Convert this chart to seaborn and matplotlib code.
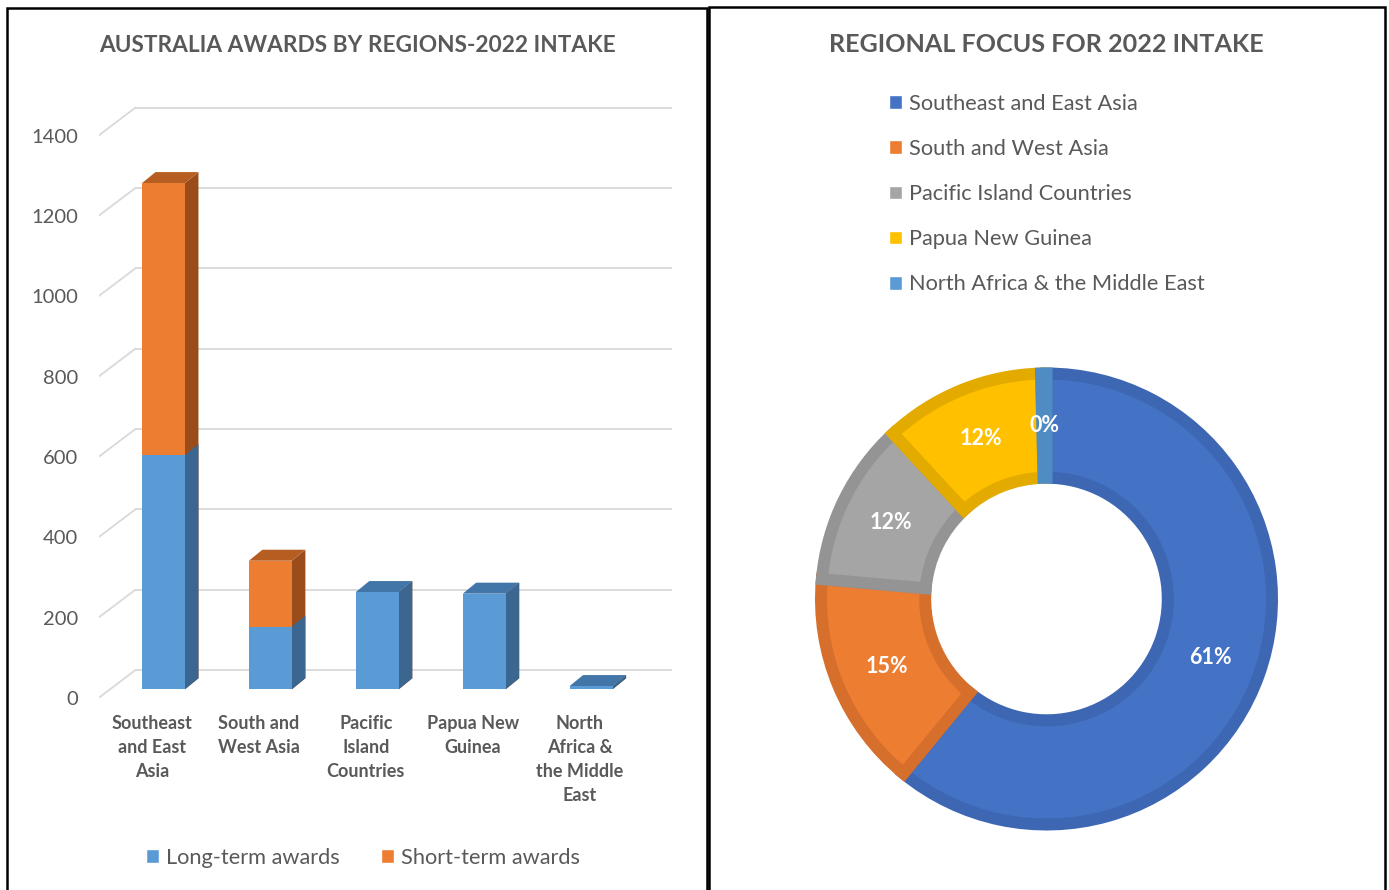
import numpy as np
import pandas as pd
import matplotlib
matplotlib.use("Agg")
import matplotlib.pyplot as plt
from matplotlib.patches import Polygon, Rectangle, Patch
import seaborn as sns

# ---------------- data ----------------
categories = ["Southeast and East Asia", "South and West Asia", "Pacific Island Countries",
              "Papua New Guinea", "North Africa & the Middle East"]
tick_labels = ["Southeast\nand East\nAsia", "South and\nWest Asia", "Pacific\nIsland\nCountries",
               "Papua New\nGuinea", "North\nAfrica &\nthe Middle\nEast"]
long_term = [583, 156, 242, 238, 8]
short_term = [677, 164, 0, 0, 0]
series_names = ["Long-term awards", "Short-term awards"]
y_ticks = [0, 200, 400, 600, 800, 1000, 1200, 1400]
bar_title = "AUSTRALIA AWARDS BY REGIONS-2022 INTAKE"
pie_title = "REGIONAL FOCUS FOR 2022 INTAKE"

# ---------------- style ----------------
sns.set_theme(style="white")
plt.rcParams['font.family'] = ['Lato', 'DejaVu Sans']
TXT = "#595959"
BLUE, BLUE_SIDE, BLUE_TOP = "#5B9BD5", "#3A6690", "#4275A8"
ORANGE, ORANGE_SIDE, ORANGE_TOP = "#ED7D31", "#9A4C1B", "#B65E21"
pie_colors = ["#4472C4", "#ED7D31", "#A5A5A5", "#FFC000", "#5B9BD5"]
pie_edges = ["#3D67B2", "#D66F2B", "#949494", "#E3AB00", "#4F8CC4"]
GRID = "#D9D9D9"

W, H = 1389, 890
fig = plt.figure(figsize=(W / 100, H / 100), dpi=100)
fig.patch.set_facecolor("white")

df = pd.DataFrame({"region": categories, "long": long_term, "short": short_term})
df["total"] = df["long"] + df["short"]
n = len(df)

# ---------------- left: 3D-looking stacked bars ----------------
ax_l, ax_r, ax_b, ax_t = 98.5, 675.8, 698.0, 95.4
ax = fig.add_axes([ax_l / W, 1 - ax_b / H, (ax_r - ax_l) / W, (ax_b - ax_t) / H])
XMAX, YMAX = 4.9, 1500
wall_dx, wall_dy = 0.346, 69.7      # depth of the wall (data units)
off_dx, off_dy = 0.108, 21.7        # bar front face position in depth
bar_dx, bar_dy = 0.126, 27.4        # bar depth
bar_w = 0.402

floor_right = n - 0.48
for v in y_ticks:
    ax.plot([-0.5 + wall_dx, floor_right + wall_dx], [v + wall_dy, v + wall_dy],
            color=GRID, lw=1.3, zorder=0.5, solid_capstyle="butt")
    ax.plot([-0.5, -0.5 + wall_dx], [v, v + wall_dy], color=GRID, lw=1.3, zorder=0.5)

sns.barplot(data=df, x="region", y="total", color=ORANGE, saturation=1, width=bar_w,
            linewidth=0, ax=ax, zorder=3)
sns.barplot(data=df, x="region", y="long", color=BLUE, saturation=1, width=bar_w,
            linewidth=0, ax=ax, zorder=3)

orange_bars = ax.containers[0]
blue_bars = ax.containers[1]

def add_depth(p, side_c, top_c, draw_top, z):
    p.set_x(p.get_x() + off_dx)
    p.set_y(p.get_y() + off_dy)
    x0, y0 = p.get_x(), p.get_y()
    x1, y1 = x0 + p.get_width(), y0 + p.get_height()
    side = Polygon([(x1, y0), (x1 + bar_dx, y0 + bar_dy), (x1 + bar_dx, y1 + bar_dy), (x1, y1)],
                   closed=True, facecolor=side_c, edgecolor="none", zorder=z)
    ax.add_patch(side)
    if draw_top:
        top = Polygon([(x0, y1), (x0 + bar_dx, y1 + bar_dy), (x1 + bar_dx, y1 + bar_dy), (x1, y1)],
                      closed=True, facecolor=top_c, edgecolor="none", zorder=z)
        ax.add_patch(top)

for i, p in enumerate(orange_bars):
    add_depth(p, ORANGE_SIDE, ORANGE_TOP, df["short"][i] > 0, 2)
for i, p in enumerate(blue_bars):
    add_depth(p, BLUE_SIDE, BLUE_TOP, df["short"][i] == 0, 2.5)

ax.set_xlim(-0.5, XMAX)
ax.set_ylim(0, YMAX)
for s in ax.spines.values():
    s.set_visible(False)
ax.set_xlabel("")
ax.set_ylabel("")
ax.set_yticks(y_ticks)
ax.set_yticklabels([str(t) for t in y_ticks], fontsize=14.5, color=TXT)
ax.set_xticks(range(n))
ax.set_xticklabels(tick_labels, fontsize=13, fontweight="bold", color=TXT, linespacing=1.5)
ax.tick_params(axis="y", length=0, pad=14.5)
ax.tick_params(axis="x", length=0, pad=12.5)
ax.set_facecolor("none")

fig.text(357 / W, 1 - 45 / H, bar_title, ha="center", va="center", fontsize=16.3,
         fontweight="bold", color=TXT)

fig.legend([Patch(facecolor=BLUE), Patch(facecolor=ORANGE)], series_names,
           loc="center", bbox_to_anchor=(363 / W, 1 - 858 / H), ncol=2, frameon=False,
           fontsize=15.7, handlelength=0.6, handleheight=0.6, handletextpad=0.3,
           columnspacing=1.9, borderpad=0, borderaxespad=0, labelcolor=TXT)

# ---------------- right: donut ----------------
cx, cy, R = 1046.5, 599, 231.5
pax = fig.add_axes([(cx - R) / W, 1 - (cy + R) / H, 2 * R / W, 2 * R / H])
totals = df["total"].tolist()
stroke_px = 12.0
s = (stroke_px / 2) / R
wedges, texts, autotexts = pax.pie(
    totals, colors=pie_colors, startangle=90, counterclock=False, radius=1 - s,
    wedgeprops=dict(width=0.502 - 2 * s, linewidth=stroke_px * 0.72, joinstyle="miter"),
    autopct="%1.0f%%", pctdistance=0.75 / (1 - s),
    textprops=dict(color="white", fontsize=15.5, fontweight="bold"))
for w, ec in zip(wedges, pie_edges):
    w.set_edgecolor(ec)
pax.set_xlim(-1, 1)
pax.set_ylim(-1, 1)
pax.set_aspect("equal")
pax.axis("off")

fig.text(1046 / W, 1 - 45 / H, pie_title, ha="center", va="center", fontsize=18.1,
         fontweight="bold", color=TXT)

fig.legend([Patch(facecolor=c) for c in pie_colors], categories,
           loc="upper left", bbox_to_anchor=(889 / W, 1 - 94 / H), ncol=1, frameon=False,
           fontsize=15.7, handlelength=0.6, handleheight=0.6, handletextpad=0.3,
           labelspacing=1.15, borderpad=0, borderaxespad=0, labelcolor=TXT)

# ---------------- panel borders ----------------
for x0, x1, ytop in [(7, 707, 8), (708.5, 1385, 7)]:
    fig.add_artist(Rectangle((x0 / W, -0.1), (x1 - x0) / W, (1 - ytop / H) + 0.1,
                             transform=fig.transFigure, fill=False, edgecolor="black",
                             lw=1.8, clip_on=False))

fig.savefig("out.png", dpi=100, facecolor="white")
